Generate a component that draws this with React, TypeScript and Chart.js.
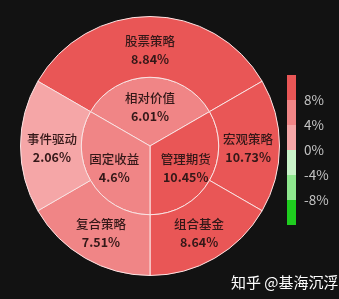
import React, { useEffect, useRef } from "react";
import { Chart, registerables } from "chart.js";

Chart.register(...registerables);

const innerNames = ["相对价值", "管理期货", "固定收益"];
const innerReturns = [6.01, 10.45, 4.6];
const innerWeights = [2, 2, 2];

const outerNames = ["股票策略", "宏观策略", "组合基金", "复合策略", "事件驱动"];
const outerReturns = [8.84, 10.73, 8.64, 7.51, 2.06];
const outerWeights = [2, 1, 1, 1, 1];

// visual map pieces, top to bottom
const pieceColors = ["#e95656", "#f08586", "#f5a6a7", "#c9f3c9", "#8fe88f", "#1fcc1f"];
const pieceThresholds = [8, 4, 0, -4, -8];
const pieceTickLabels = ["8%", "4%", "0%", "-4%", "-8%"];

function colorFor(v: number): string {
  for (let i = 0; i < pieceThresholds.length; i++) {
    if (v >= pieceThresholds[i]) return pieceColors[i];
  }
  return pieceColors[pieceColors.length - 1];
}

const FONT = '"Noto Sans CJK SC", "Noto Sans", sans-serif';

const labelPlugin = {
  id: "sunLabels",
  afterDatasetsDraw(chart: any) {
    const ctx = chart.ctx;
    ctx.save();
    ctx.textAlign = "center";
    ctx.textBaseline = "middle";
    ctx.fillStyle = "#341818";
    ctx.font = `500 12.5px ${FONT}`;
    chart.data.datasets.forEach((ds: any, di: number) => {
      const meta = chart.getDatasetMeta(di);
      meta.data.forEach((arc: any, i: number) => {
        const p = arc.getProps(["x", "y", "startAngle", "endAngle", "innerRadius", "outerRadius"], true);
        const mid = (p.startAngle + p.endAngle) / 2;
        const r = p.innerRadius < 1 ? p.outerRadius * 0.6 : (p.innerRadius + p.outerRadius) / 2 - 1;
        const cx = p.x + r * Math.cos(mid);
        const cy = p.y + r * Math.sin(mid);
        ctx.fillText(ds.names[i], cx, cy - 7);
        ctx.font = `bold 12.5px ${FONT}`;
        ctx.fillText(ds.returns[i] + "%", cx, cy + 11);
        ctx.font = `500 12.5px ${FONT}`;
      });
    });
    ctx.restore();
  },
  afterDraw(chart: any) {
    const ctx = chart.ctx;
    ctx.save();
    const x0 = 287, y0 = 75, w = 9, h = 25;
    pieceColors.forEach((c, i) => {
      ctx.fillStyle = c;
      ctx.fillRect(x0, y0 + i * h, w, h);
    });
    ctx.fillStyle = "#c4c4c4";
    ctx.font = `13.5px ${FONT}`;
    ctx.textAlign = "left";
    ctx.textBaseline = "middle";
    pieceTickLabels.forEach((t, i) => {
      ctx.fillText(t, 304, y0 + (i + 1) * h);
    });
    ctx.fillStyle = "#ffffff";
    ctx.font = `15px ${FONT}`;
    ctx.textAlign = "left";
    ctx.fillText("知乎 @基海沉浮", 231, 282);
    ctx.restore();
  },
};

export default function App() {
  const ref = useRef<HTMLCanvasElement>(null);
  useEffect(() => {
    document.body.style.margin = "0";
    document.body.style.background = "#121212";
    const chart = new Chart(ref.current!, {
      type: "pie",
      data: {
        labels: outerNames,
        datasets: [
          {
            data: outerWeights,
            names: outerNames,
            returns: outerReturns,
            backgroundColor: outerReturns.map(colorFor),
            borderColor: "#fbe3e3",
            borderWidth: 1,
            weight: 61,
            hoverOffset: 0,
          } as any,
          {
            data: innerWeights,
            names: innerNames,
            returns: innerReturns,
            backgroundColor: innerReturns.map(colorFor),
            borderColor: "#fbe3e3",
            borderWidth: 1,
            weight: 69,
            hoverOffset: 0,
          } as any,
        ],
      },
      options: {
        animation: false,
        responsive: false,
        rotation: -60,
        layout: { padding: { left: 20, top: 16, right: 59, bottom: 23 } },
        plugins: { legend: { display: false }, tooltip: { enabled: false } },
        events: [],
      } as any,
      plugins: [labelPlugin],
    });
    return () => chart.destroy();
  }, []);
  return (
    <div style={{ position: "absolute", left: 0, top: 0, width: 339, height: 299, background: "#121212" }}>
      <canvas ref={ref} width={339} height={299} style={{ display: "block", width: 339, height: 299 }} />
    </div>
  );
}
